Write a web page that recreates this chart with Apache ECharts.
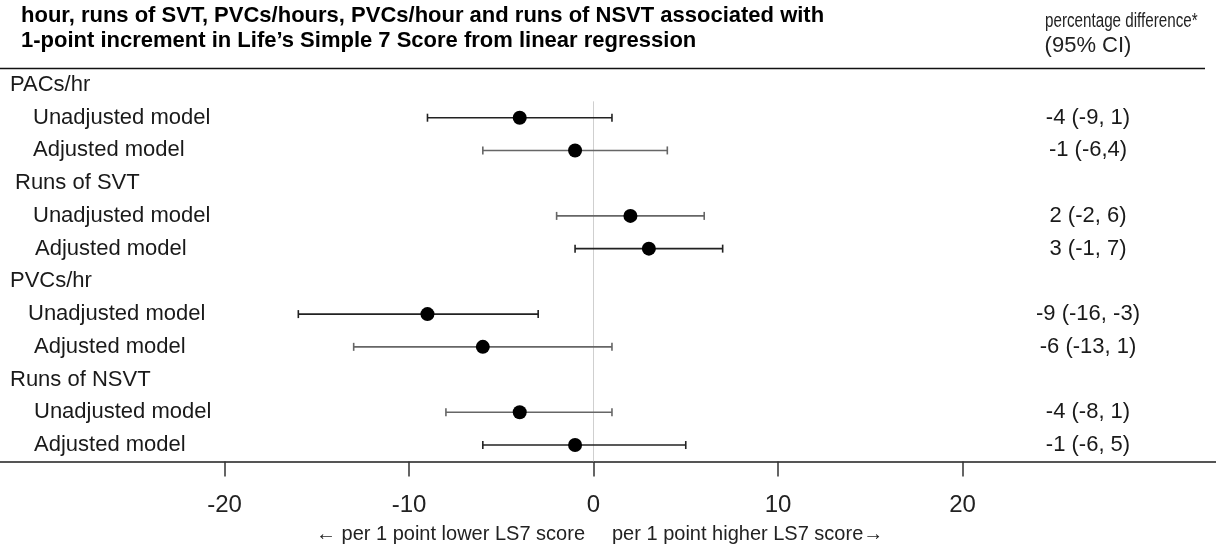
<!DOCTYPE html>
<html><head><meta charset="utf-8">
<script src="https://cdn.jsdelivr.net/npm/echarts@6/dist/echarts.min.js"></script>
<style>html,body{margin:0;padding:0;background:#fff}#chart{width:1216px;height:548px}</style>
</head><body><div id="chart"></div>
<script>
// ---- data ----
const rowLabels = ['PACs/hr','Unadjusted model','Adjusted model','Runs of SVT','Unadjusted model','Adjusted model','PVCs/hr','Unadjusted model','Adjusted model','Runs of NSVT','Unadjusted model','Adjusted model'];
const estimates = [null,-4,-1,null,2,3,null,-9,-6,null,-4,-1];
const lowerCI   = [null,-9,-6,null,-2,-1,null,-16,-13,null,-8,-6];
const upperCI   = [null,1,4,null,6,7,null,-3,1,null,1,5];
const ciLabels  = ['','-4 (-9, 1)','-1 (-6,4)','','2 (-2, 6)','3 (-1, 7)','','-9 (-16, -3)','-6 (-13, 1)','','-4 (-8, 1)','-1 (-6, 5)'];
const xTicks = [-20,-10,0,10,20];
const xRange = [-32.17, 33.74];
const titleLines = ['hour, runs of SVT, PVCs/hours, PVCs/hour and runs of NSVT associated with','1-point increment in Life\u2019s Simple 7 Score from linear regression'];
const columnHeader = ['percentage difference*','(95% CI)'];
const directionLabels = ['\u2190 per 1 point lower LS7 score','per 1 point higher LS7 score\u2192'];
const zeroLineStartRow = 1;

// ---- styles ----
const FONT = "'Liberation Sans', Arial, Helvetica, sans-serif";
const rowIndent = [10,33,33,15,33,35,10,28,34,10,34,34];
const barColors = ['#000','#222','#666','#000','#666','#222','#000','#222','#666','#000','#666','#222'];

const rich = {};
rowLabels.forEach((t,i)=>{ rich['r'+i] = {fontSize:22, fontFamily:FONT, color:'#1a1a1a', padding:[0,0,0,rowIndent[i]]}; });

const barData = [], dotData = [];
estimates.forEach((v,i)=>{
  if (v === null) return;
  barData.push([lowerCI[i], upperCI[i], i]);
  dotData.push([v, i]);
});

const chart = echarts.init(document.getElementById('chart'), null, {renderer:'canvas'});
chart.setOption({
  animation:false,
  backgroundColor:'#fff',
  title:{
    text: titleLines.join('\n'), left:21, top:3, padding:0,
    textStyle:{fontSize:22, fontWeight:'bold', fontFamily:FONT, color:'#000', lineHeight:25}
  },
  grid:{left:0, right:0, top:68.6, height:392.8},
  xAxis:{
    type:'value', min:xRange[0], max:xRange[1],
    axisLine:{show:true, lineStyle:{color:'#555', width:2}},
    axisTick:{show:true, customValues:xTicks, length:15, lineStyle:{color:'#333', width:1.5}},
    axisLabel:{customValues:xTicks, fontSize:24, fontFamily:FONT, color:'#222', margin:32},
    splitLine:{show:false}
  },
  yAxis:[{
    type:'category', inverse:true, data:rowLabels, position:'left',
    axisLine:{show:false}, axisTick:{show:false}, splitLine:{show:false},
    axisLabel:{inside:true, margin:0, align:'left', interval:0, rich:rich,
      formatter:(v,i)=>'{r'+i+'|'+v+'}'}
  },{
    type:'category', inverse:true, data:ciLabels, position:'right',
    axisLine:{show:false}, axisTick:{show:false}, splitLine:{show:false},
    axisLabel:{inside:true, margin:128, align:'center', interval:0, fontSize:22, fontFamily:FONT, color:'#1a1a1a'}
  }],
  series:[{
    type:'custom', z:1, silent:true,
    data:[[0, zeroLineStartRow]],
    encode:{x:0, y:1},
    renderItem:(params, api)=>{
      const p = api.coord([api.value(0), api.value(1)]);
      const band = api.size([0, 1])[1];
      const bottom = params.coordSys.y + params.coordSys.height;
      return {type:'line', shape:{x1:p[0], y1:p[1]-band/2, x2:p[0], y2:bottom}, style:{stroke:'#cfcfcf', lineWidth:1}};
    }
  },{
    type:'custom', z:2, silent:true,
    data:barData,
    encode:{x:[0,1], y:2},
    renderItem:(params, api)=>{
      const row = api.value(2);
      const a = api.coord([api.value(0), row]);
      const b = api.coord([api.value(1), row]);
      const h = 4;
      const st = {stroke:barColors[row], lineWidth:1.6};
      return {type:'group', children:[
        {type:'line', shape:{x1:a[0], y1:a[1], x2:b[0], y2:b[1]}, style:st},
        {type:'line', shape:{x1:a[0], y1:a[1]-h, x2:a[0], y2:a[1]+h}, style:st},
        {type:'line', shape:{x1:b[0], y1:b[1]-h, x2:b[0], y2:b[1]+h}, style:st}
      ]};
    }
  },{
    type:'scatter', z:3, silent:true,
    data:dotData, symbol:'circle', symbolSize:14,
    itemStyle:{color:'#000', opacity:1}
  }],
  graphic:[
    {type:'line', shape:{x1:0, y1:68.5, x2:1205, y2:68.5}, style:{stroke:'#111', lineWidth:1.5}, silent:true},
    {type:'text', x:1045, y:21, scaleX:0.76, style:{text:columnHeader[0], textAlign:'left', textVerticalAlign:'middle', font:'20px '+FONT, fill:'#222'}},
    {type:'text', x:1088, y:46, style:{text:columnHeader[1], textAlign:'center', textVerticalAlign:'middle', font:'22px '+FONT, fill:'#222'}},
    {type:'text', x:585, y:534, style:{text:directionLabels[0], textAlign:'right', textVerticalAlign:'middle', font:'20px '+FONT, fill:'#222'}},
    {type:'text', x:612, y:534, style:{text:directionLabels[1], textAlign:'left', textVerticalAlign:'middle', font:'20px '+FONT, fill:'#222'}}
  ]
});
</script>
</body></html>
